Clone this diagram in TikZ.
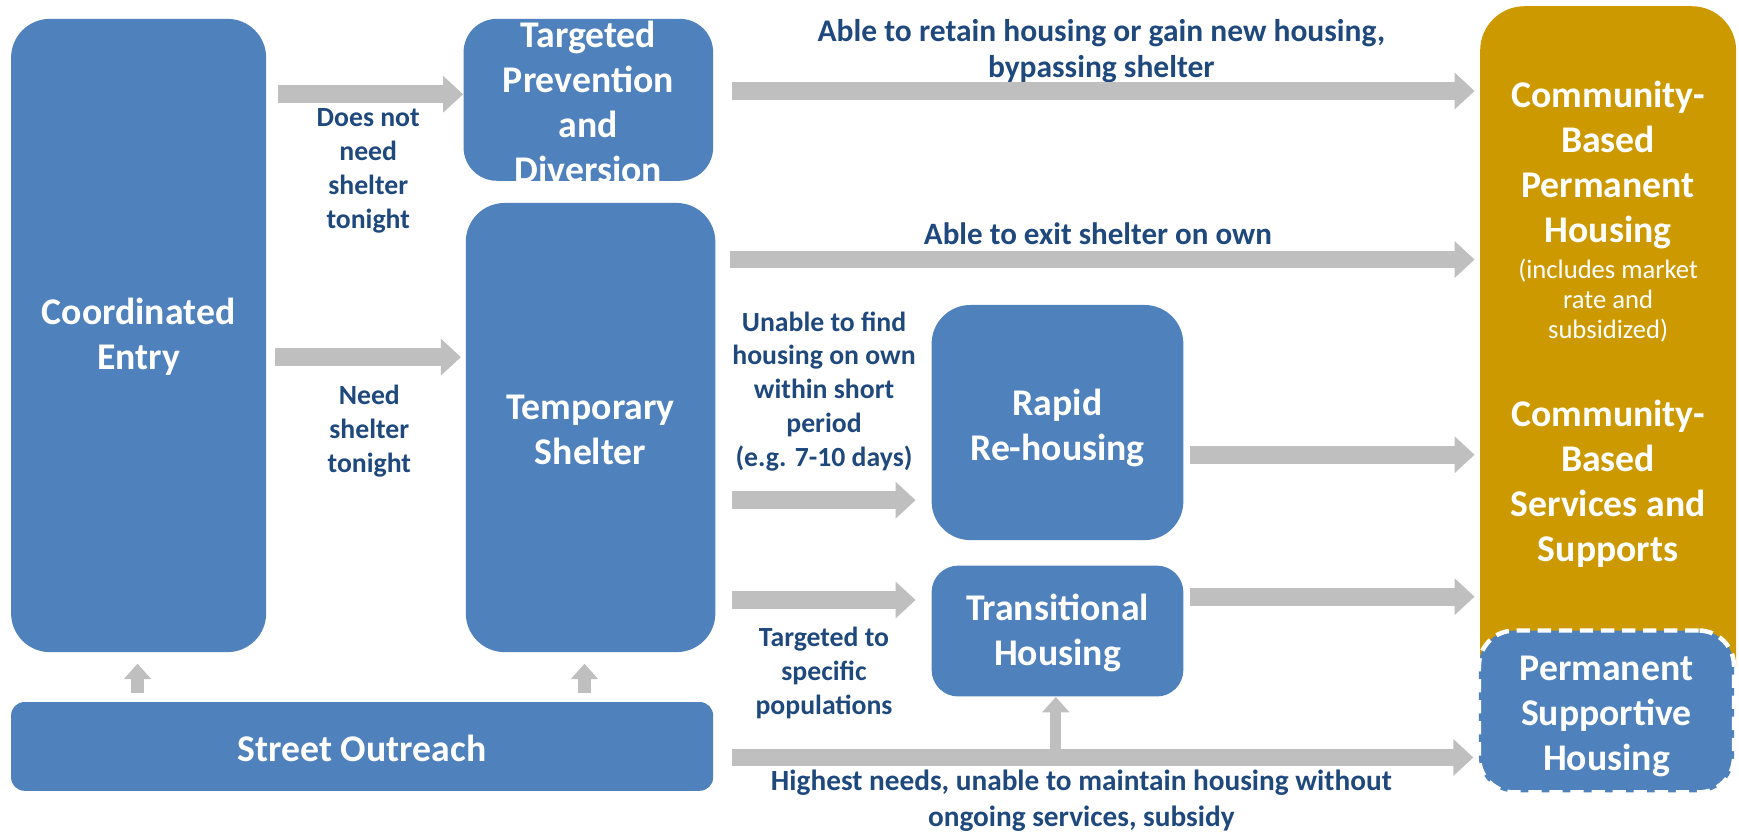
\documentclass[tikz,border=0pt]{standalone}
\usepackage{fontspec}
\setmainfont{Carlito}
\usetikzlibrary{arrows.meta,calc}
\definecolor{boxblue}{HTML}{4F81BD}
\definecolor{goldbox}{HTML}{CC9900}
\definecolor{txtblue}{HTML}{1F497D}
\definecolor{agray}{HTML}{BFBFBF}
\begin{document}
\begin{tikzpicture}[x=0.5pt,y=-0.5pt,
  bbox/.style={fill=boxblue, draw=none, inner sep=0pt, rounded corners=#1},
  bbox/.default=17.5pt,
  btext/.style={text=white, font=\fontsize{17}{20.3}\selectfont\bfseries, align=center, inner sep=0pt},
  smtext/.style={text=white, font=\fontsize{12}{13.6}\selectfont, align=center, inner sep=0pt},
  ltext/.style={text=txtblue, font=\fontsize{12.5}{15.3}\selectfont\bfseries, align=center, inner sep=0pt},
  ttext/.style={text=txtblue, font=\fontsize{14}{16.3}\selectfont\bfseries, align=center, inner sep=0pt},
  garrow/.style={draw=agray, line width=8pt, -{Triangle[length=9pt,width=16pt]}},
  uparrow/.style={draw=agray, line width=6pt, -{Triangle[length=7pt,width=12pt]}}
]
\useasboundingbox (0,0) rectangle (1568,750);

% boxes
\node[bbox, minimum width=115pt, minimum height=285.5pt] (ce) at (125,302.5) {};
\node[bbox=15pt, minimum width=112.5pt, minimum height=73pt] (tpd) at (530.5,90) {};
\node[bbox, minimum width=112.5pt, minimum height=202.5pt] (ts) at (532.5,385.5) {};
\node[bbox=6pt, minimum width=316.5pt, minimum height=40pt] (so) at (326.5,673) {};
\node[bbox, minimum width=113.5pt, minimum height=106pt] (rr) at (953.5,381) {};
\node[bbox=12pt, minimum width=113.5pt, minimum height=59pt] (th) at (953.5,569) {};
\node[inner sep=0pt, minimum width=115pt, minimum height=297pt] (cb) at (1450,303) {};
\fill[goldbox] (cb.south west) [rounded corners=20pt] -- (cb.north west) -- (cb.north east) [sharp corners] -- (cb.south east) -- cycle;
\node[fill=boxblue, draw=white, line width=2pt, dash pattern=on 6pt off 3.5pt, rounded corners=16pt, inner sep=0pt, minimum width=115pt, minimum height=73pt] (psh) at (1448.5,641.5) {};

% box texts
\node[btext] (ceT) at (125,304) {Coordinated\\Entry};
\node[btext] (tpdT) at (530.5,92) {Targeted\\Prevention\\and\\Diversion};
\node[btext] (tsT) at (532.5,388) {Temporary\\Shelter};
\node[btext] (soT) at (326.5,675) {Street Outreach};
\node[btext] (rrT) at (953.5,386) {Rapid\\Re-housing};
\node[btext] (thT) at (953.5,571) {Transitional\\Housing};
\node[btext] (cbT1) at (1450,149) {Community-\\Based\\Permanent\\Housing};
\node[smtext] (cbT2) at (1450,271) {(includes market\\rate and\\subsidized)};
\node[btext] (cbT3) at (1450,436) {Community-\\Based\\Services and\\Supports};
\node[btext] (pshT) at (1448.5,646) {Permanent\\Supportive\\Housing};

% labels
\node[ltext] (l1) at (332,154) {Does not\\need\\shelter\\tonight};
\node[ltext] (l2) at (333,389) {Need\\shelter\\tonight};
\node[ttext, font=\fontsize{14.2}{16.3}\selectfont\bfseries] (l3) at (993,46) {Able to retain housing or gain new housing,\\bypassing shelter};
\node[ttext] (l4) at (990,211) {Able to exit shelter on own};
\node[ltext] (l5) at (743,353) {Unable to find\\housing on own\\within short\\period\\(e.g. 7-10 days)};
\node[ltext] (l6) at (743,607) {Targeted to\\specific\\populations};
\node[ttext, font=\fontsize{13.2}{16}\selectfont\bfseries] (l7) at (975,722) {Highest needs, unable to maintain housing without\\ongoing services, subsidy};

% connectors
\draw[garrow] ($(ce.east|-0,85)+(10,0)$) -- (tpd.west|-0,85);
\draw[garrow] ($(ce.east|-0,322)+(8,0)$) -- ($(ts.west|-0,322)+(-4,0)$);
\draw[garrow] ($(tpd.east|-0,82)+(17,0)$) -- ($(cb.west|-0,82)+(-5,0)$);
\draw[garrow] ($(ts.east|-0,234)+(13,0)$) -- ($(cb.west|-0,234)+(-5,0)$);
\draw[garrow] ($(ts.east|-0,451)+(15,0)$) -- ($(rr.west|-0,451)+(-14,0)$);
\draw[garrow] ($(ts.east|-0,541)+(15,0)$) -- ($(th.west|-0,541)+(-14,0)$);
\draw[garrow] ($(rr.east|-0,410)+(6,0)$) -- ($(cb.west|-0,410)+(-5,0)$);
\draw[garrow] ($(th.east|-0,538)+(6,0)$) -- ($(cb.west|-0,538)+(-5,0)$);
\draw[garrow] ($(so.east|-0,683)+(17,0)$) -- ($(psh.west|-0,683)+(-3,0)$);
\draw[uparrow] ($(so.north-|124,0)+(0,-8)$) -- ($(ce.south-|124,0)+(0,10)$);
\draw[uparrow] ($(so.north-|527,0)+(0,-8)$) -- ($(ts.south-|527,0)+(0,10)$);
\coordinate (hb) at (952,676);
\draw[uparrow, line width=5pt] (hb) -- (th.south-|hb);
\end{tikzpicture}
\end{document}
